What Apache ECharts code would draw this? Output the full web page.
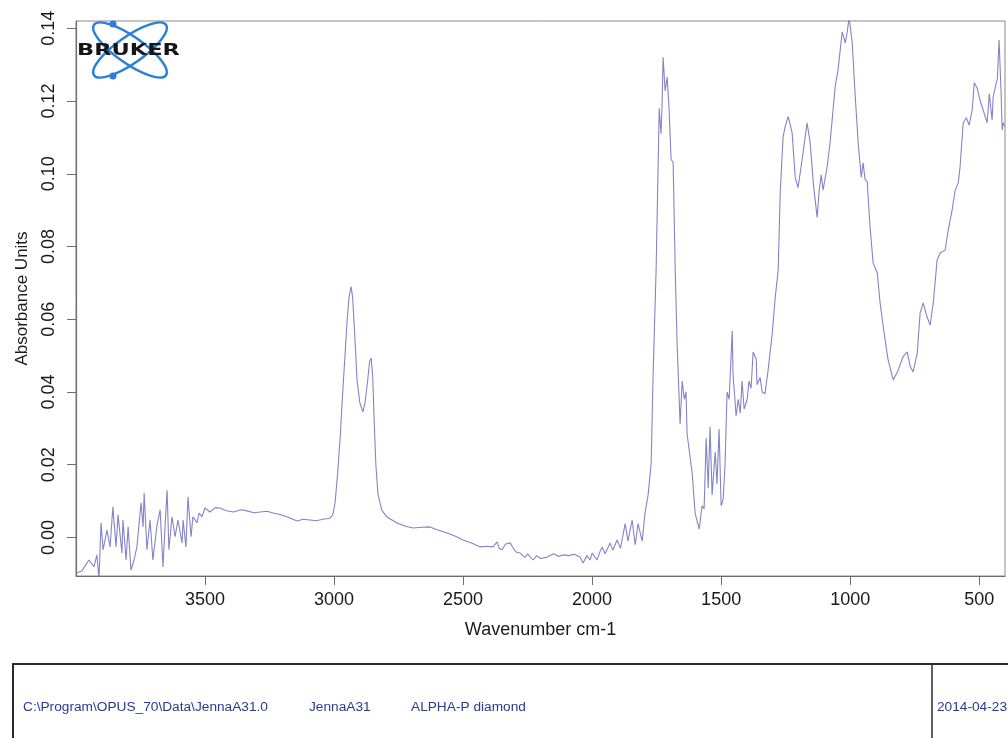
<!DOCTYPE html>
<html>
<head>
<meta charset="utf-8">
<script src="https://cdn.jsdelivr.net/npm/echarts@6/dist/echarts.min.js"></script>
<style>
html,body{margin:0;padding:0;background:#fff;}
#chart{width:1008px;height:738px;}
</style>
</head>
<body>
<div id="chart"></div>
<script>
const wavenumbers = [
4000,3977,3950,3930,3919,3911,3903,3895,3880,3868,3857,3845,3837,3822,3818,3806,3798,3787,3775,3764,
3748,3740,3736,3725,3713,3702,3686,3674,3663,3655,3647,3640,3628,3616,3605,3589,3585,3574,3566,3554,
3547,3531,3523,3512,3500,3481,3460,3442,3420,3391,3360,3337,3310,3287,3260,3236,3210,3182,3160,3143,
3120,3093,3070,3043,3016,
3005,2996,2985,2975,2969,2957,2950,2942,2934,2928,2920,2911,2900,2888,2880,2870,2862,2856,2850,2845,
2838,2830,2815,2795,2756,2720,2694,2660,2628,
2595,2562,2530,2500,2465,2434,2410,2384,2368,2360,2349,2335,2317,2306,2295,2279,2260,2250,2229,2215,
2200,2174,2150,2130,2112,2090,2070,2047,2035,2020,2008,2000,1981,1970,1961,1950,1930,1920,1903,
1890,1872,1861,1845,1833,1822,1806,1795,1783,1771,1764,1752,1744,1740,1733,1729,1725,1717,1709,1702,
1694,1686,1678,1671,1659,1651,1643,1636,1632,1612,1601,1585,1574,1566,1558,1550,1543,1535,1523,1516,
1508,1500,1492,1485,1477,1469,1457,1454,1442,1434,1426,1419,1411,1399,1392,1384,1376,1364,1361,1349,
1341,1330,1318,1302,1291,1279,1271,1260,1252,1240,1225,1213,1202,1186,1167,1155,1143,1128,1120,1112,
1105,1089,1078,1058,1047,1031,1019,1012,1004,992,981,969,957,950,942,934,923,911,895,884,
872,853,833,814,795,779,767,756,740,729,717,702,690,678,663,651,632,620,605,593,
581,574,562,550,539,527,519,508,496,485,469,461,450,446,434,430,423,415,411,407,400
];
const absorbance = [
-0.0098,-0.0092,-0.0062,-0.0080,-0.0048,-0.0115,0.0040,-0.0034,0.0020,-0.0026,0.0084,-0.0026,0.0062,-0.0043,0.0048,-0.0062,0.0029,-0.0090,-0.0062,-0.0026,
0.0095,0.0029,0.0122,-0.0034,0.0048,-0.0062,0.0034,0.0076,-0.0081,0.0029,0.0130,-0.0034,0.0057,0.0002,0.0048,-0.0015,0.0048,-0.0026,0.0111,0.0002,
0.0057,0.0040,0.0067,0.0057,0.0081,0.0070,0.0082,0.0081,0.0074,0.0070,0.0076,0.0073,0.0068,0.0070,0.0072,0.0067,0.0063,0.0057,0.0050,0.0045,
0.0050,0.0048,0.0046,0.0050,0.0053,
0.0062,0.0095,0.0186,0.0290,0.0370,0.0507,0.0590,0.0660,0.0690,0.0660,0.0560,0.0433,0.0370,0.0345,0.0370,0.0430,0.0485,0.0493,0.0440,0.0330,
0.0200,0.0120,0.0075,0.0056,0.0040,0.0030,0.0026,0.0028,0.0029,
0.0020,0.0012,0.0003,-0.0007,-0.0016,-0.0026,-0.0024,-0.0026,-0.0012,-0.0030,-0.0034,-0.0018,-0.0015,-0.0029,-0.0040,-0.0043,-0.0055,-0.0045,-0.0062,-0.0050,
-0.0058,-0.0054,-0.0045,-0.0052,-0.0048,-0.0050,-0.0046,-0.0054,-0.0070,-0.0050,-0.0062,-0.0043,-0.0062,-0.0040,-0.0026,-0.0045,-0.0015,-0.0035,-0.0007,
-0.0030,0.0038,-0.0010,0.0048,-0.0020,0.0038,-0.0010,0.0067,0.0117,0.0205,0.0440,0.0735,0.1030,0.1180,0.1110,0.1187,0.1320,0.1228,0.1266,0.1180,
0.1040,0.1030,0.0735,0.0540,0.0312,0.0430,0.0380,0.0400,0.0285,0.0175,0.0067,0.0023,0.0087,0.0078,0.0273,0.0136,0.0304,0.0117,0.0235,0.0147,
0.0298,0.0087,0.0106,0.0197,0.0400,0.0380,0.0568,0.0450,0.0334,0.0380,0.0342,0.0430,0.0353,0.0380,0.0430,0.0410,0.0510,0.0490,0.0420,0.0440,
0.0400,0.0395,0.0460,0.0560,0.0656,0.0735,0.0950,0.1100,0.1130,0.1157,0.1113,0.0990,0.0962,0.1040,0.1140,0.1085,0.0975,0.0880,0.0955,0.0997,
0.0955,0.1020,0.1085,0.1240,0.1285,0.1390,0.1360,0.1387,0.1430,0.1360,0.1220,0.1085,0.0990,0.1030,0.0983,0.0978,0.0854,0.0755,0.0727,0.0645,
0.0580,0.0488,0.0433,0.0460,0.0497,0.0510,0.0470,0.0455,0.0507,0.0617,0.0645,0.0606,0.0584,0.0645,0.0763,0.0782,0.0790,0.0845,0.0900,0.0955,
0.0975,0.1020,0.1140,0.1154,0.1134,0.1176,0.1250,0.1236,0.1200,0.1176,0.1140,0.1220,0.1148,0.1210,0.1250,0.1258,0.1368,0.1220,0.1120,0.1140,0.1130
];
const xTickLabels = [3500, 3000, 2500, 2000, 1500, 1000, 500];
const yTickLabels = [0.00, 0.02, 0.04, 0.06, 0.08, 0.10, 0.12, 0.14];
const xTitle = 'Wavenumber cm-1';
const yTitle = 'Absorbance Units';
const infoPath = 'C:\\Program\\OPUS_70\\Data\\JennaA31.0';
const infoName = 'JennaA31';
const infoDesc = 'ALPHA-P diamond';
const infoDate = '2014-04-23';

const seriesData = wavenumbers.map((w, i) => [w, absorbance[i]]);
const FONT = '"Liberation Sans", Arial, sans-serif';
const chart = echarts.init(document.getElementById('chart'), null, {renderer: 'canvas'});

chart.setOption({
  animation: false,
  backgroundColor: '#ffffff',
  grid: {left: 76, top: 21, right: 3, bottom: 162, show: true, borderColor: '#8a8a8a', borderWidth: 1, backgroundColor: 'transparent'},
  xAxis: {
    type: 'value', min: 400, max: 4000, inverse: true,
    name: xTitle, nameLocation: 'middle', nameGap: 45,
    nameTextStyle: {fontFamily: FONT, fontSize: 18, color: '#1a1a1a'},
    axisLine: {show: true, onZero: false, lineStyle: {color: '#6e6e6e', width: 1.2}},
    axisTick: {show: true, length: 9, customValues: xTickLabels, lineStyle: {color: '#6e6e6e'}},
    axisLabel: {customValues: xTickLabels, margin: 15, fontFamily: FONT, fontSize: 18, color: '#1a1a1a',
      formatter: v => String(Math.round(v))},
    splitLine: {show: false}
  },
  yAxis: {
    type: 'value', min: -0.0106, max: 0.1420,
    name: yTitle, nameLocation: 'middle', nameGap: 45, nameRotate: 90,
    nameTextStyle: {fontFamily: FONT, fontSize: 17, color: '#1a1a1a'},
    axisLine: {show: true, onZero: false, lineStyle: {color: '#6e6e6e', width: 1.2}},
    axisTick: {show: true, length: 9, customValues: yTickLabels, lineStyle: {color: '#6e6e6e'}},
    axisLabel: {customValues: yTickLabels, rotate: 90, margin: 18, fontFamily: FONT, fontSize: 18, color: '#1a1a1a',
      formatter: v => Number(v).toFixed(2)},
    splitLine: {show: false}
  },
  series: [{
    type: 'line', data: seriesData, showSymbol: false, symbol: 'none', clip: true,
    lineStyle: {color: '#8583c8', width: 1.1}
  }],
  graphic: [
    {type: 'ellipse', x: 130, y: 50, rotation: -0.61, shape: {cx: 0, cy: 0, rx: 44, ry: 13.5},
      style: {fill: 'none', stroke: '#2c80d3', lineWidth: 2.5}, z: 10},
    {type: 'ellipse', x: 130, y: 50, rotation: 0.61, shape: {cx: 0, cy: 0, rx: 44, ry: 13.5},
      style: {fill: 'none', stroke: '#2c80d3', lineWidth: 2.5}, z: 10},
    {type: 'circle', shape: {cx: 113, cy: 24, r: 3.5}, style: {fill: '#2c80d3'}, z: 10},
    {type: 'circle', shape: {cx: 113, cy: 76, r: 3.5}, style: {fill: '#2c80d3'}, z: 10},
    {type: 'text', x: 77, y: 51, scaleX: 1.5, z: 11,
      style: {text: 'BRUKER', font: 'bold 15px "DejaVu Sans", sans-serif', fill: '#151515', verticalAlign: 'middle', align: 'left'}},
    {type: 'rect', shape: {x: 13, y: 664, width: 1100, height: 200},
      style: {fill: 'none', stroke: '#2a2a2a', lineWidth: 2}, z: 5},
    {type: 'line', shape: {x1: 932, y1: 664, x2: 932, y2: 738},
      style: {stroke: '#2a2a2a', lineWidth: 1.5}, z: 5},
    {type: 'text', x: 23, y: 707, z: 6,
      style: {text: infoPath, font: '13.7px ' + FONT, fill: '#2a3a8f', verticalAlign: 'middle'}},
    {type: 'text', x: 309, y: 707, z: 6,
      style: {text: infoName, font: '13.7px ' + FONT, fill: '#2a3a8f', verticalAlign: 'middle'}},
    {type: 'text', x: 411, y: 707, z: 6,
      style: {text: infoDesc, font: '13.7px ' + FONT, fill: '#2a3a8f', verticalAlign: 'middle'}},
    {type: 'text', x: 937, y: 707, z: 6,
      style: {text: infoDate, font: '13.7px ' + FONT, fill: '#2a3a8f', verticalAlign: 'middle'}}
  ]
});
</script>
</body>
</html>
